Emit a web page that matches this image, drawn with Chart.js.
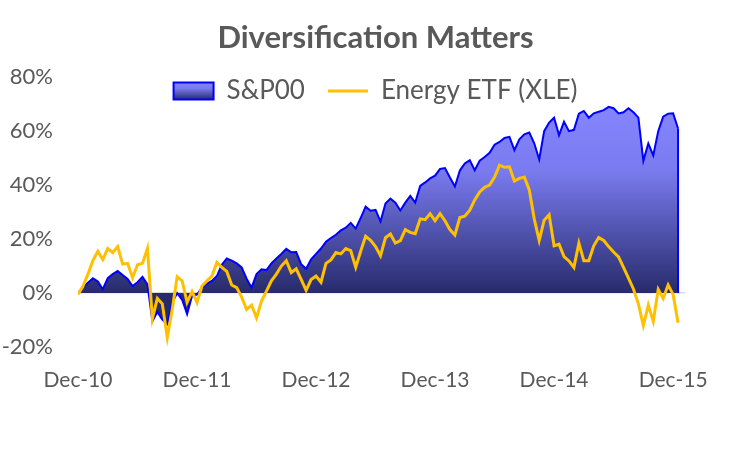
<!DOCTYPE html>
<html>
<head>
<meta charset="utf-8">
<script src="https://cdn.jsdelivr.net/npm/chart.js@4"></script>
<style>
  html, body { margin: 0; padding: 0; background: #fff; }
  #wrap { width: 751px; height: 450px; }
</style>
</head>
<body>
<div id="wrap"><canvas id="myChart" width="751" height="450"></canvas></div>
<script>
// tick positions (months since Dec-10) and their labels
const tickMonths = [0, 12, 24, 36, 48, 60];
const tickLabels = ['Dec-10', 'Dec-11', 'Dec-12', 'Dec-13', 'Dec-14', 'Dec-15'];

// cumulative return in %, one value every half month from Dec-10
const spx = [
  0, 2.0, 3.8, 5.5, 4.3, 1.4, 5.5, 7.0, 8.2, 6.7, 5.2, 2.6,
  4.0, 6.0, 3.2, -10.4, -7.0, -9.8, -11.5, -3.5, 0, -2.5, -7.8, -1.0,
  -0.6, 2.0, 3.5, 4.5, 6.3, 10.5, 12.8, 12.0, 11.0, 9.5, 5.3, 2.0,
  7.0, 8.8, 8.5, 11.0, 12.8, 14.5, 16.4, 15.1, 15.2, 10.7, 9.0, 12.5,
  14.5, 16.5, 19.0, 20.4, 21.6, 23.2, 24.2, 26.0, 23.9, 27.8, 32.0, 30.5,
  30.8, 26.5, 33.2, 35.0, 33.5, 30.6, 33.5, 36.0, 33.5, 39.7, 41.0, 42.5,
  43.5, 46.0, 46.3, 42.8, 39.5, 45.4, 48.0, 49.2, 45.5, 49.1, 50.4, 52.0,
  55.0, 56.0, 57.5, 57.9, 53.0, 57.0, 58.8, 59.5, 55.5, 49.5, 60.0, 63.2,
  65.0, 58.5, 63.5, 60.0, 60.5, 66.5, 67.5, 65.0, 66.6, 67.2, 67.8, 69.0,
  68.5, 66.6, 67.0, 68.5, 67.0, 65.0, 49.0, 55.4, 51.0, 60.0, 65.4, 66.5,
  66.6, 61.0
];

const xle = [
  -0.5, 2.5, 7.0, 12.0, 15.5, 12.4, 16.5, 15.0, 17.2, 10.7, 11.0, 5.7,
  10.5, 11.0, 16.5, -9.5, -2.0, -4.0, -16.5, -6.0, 6.0, 4.5, -3.5, 0.5,
  -3.5, 2.6, 4.5, 6.3, 11.3, 9.5, 8.0, 3.0, 2.0, -1.5, -6.1, -4.5,
  -9.2, -3.0, 0.7, 4.5, 7.0, 10.0, 12.0, 7.6, 9.0, 5.1, 1.0, 5.0,
  6.3, 4.0, 11.0, 12.3, 15.0, 14.5, 16.5, 15.7, 9.5, 15.5, 21.0, 19.5,
  17.2, 13.8, 20.5, 21.9, 18.5, 19.4, 23.5, 22.5, 22.0, 27.5, 27.2, 29.4,
  26.8, 29.4, 26.8, 23.5, 21.5, 28.0, 28.5, 30.7, 34.5, 37.5, 39.2, 40.0,
  43.0, 47.4, 46.6, 46.8, 41.5, 42.5, 43.0, 38.2, 27.5, 19.5, 27.0, 29.0,
  17.5, 18.1, 13.5, 11.9, 9.5, 18.5, 12.0, 12.0, 17.5, 20.6, 19.5, 17.2,
  15.2, 13.4, 9.5, 5.5, 1.5, -4.0, -12.0, -4.5, -10.5, 1.4, -2.0, 3.0,
  -0.5, -11.0
];

const halfMonths = spx.map((_, i) => i / 2);

const textColor = '#595959';
const fontName = 'Lato';

function areaGradient(ctx, top, bottom) {
  const g = ctx.createLinearGradient(0, top, 0, bottom);
  g.addColorStop(0, '#8585ff');
  g.addColorStop(0.35, '#7a7bef');
  g.addColorStop(1, '#272b6b');
  return g;
}

// legend sits inside the plot, just under the 80% line
const legendTweak = {
  id: 'legendTweak',
  afterLayout(chart) {
    const lg = chart.legend;
    lg.top = 55;
    lg.bottom = 55 + 59;
  },
  beforeDraw(chart) {
    const lg = chart.legend;
    const item = lg.legendItems.find(it => it.datasetIndex === 0);
    if (!item) return;
    const cy = lg.top + 23 + 13;
    item.fillStyle = areaGradient(chart.ctx, cy - 8.5, cy + 8.5);
  },
  // close the area on the right like the excel border does
  afterDatasetDraw(chart, args) {
    if (args.index !== 0) return;
    const pts = args.meta.data;
    const last = pts[pts.length - 1];
    const c = chart.ctx;
    c.save();
    c.strokeStyle = '#0000ff';
    c.lineWidth = 2;
    c.beginPath();
    c.moveTo(last.x, last.y);
    c.lineTo(last.x, chart.scales.y.getPixelForValue(0));
    c.stroke();
    c.restore();
  }
};

const ctx = document.getElementById('myChart').getContext('2d');
new Chart(ctx, {
  type: 'line',
  data: {
    datasets: [
      {
        label: 'S&P00',
        data: halfMonths.map((m, i) => ({ x: m, y: spx[i] })),
        borderColor: '#0000ff',
        borderWidth: 2,
        backgroundColor: (c) => {
          const { chart } = c;
          if (!chart.chartArea) return '#5a5ec8';
          const y = chart.scales.y;
          return areaGradient(chart.ctx, y.getPixelForValue(70), y.getPixelForValue(0));
        },
        fill: 'origin',
        pointRadius: 0,
        pointStyle: 'rect',
        order: 2
      },
      {
        label: 'Energy ETF (XLE)',
        data: halfMonths.map((m, i) => ({ x: m, y: xle[i] })),
        borderColor: '#ffc000',
        backgroundColor: '#ffc000',
        borderWidth: 3,
        fill: false,
        pointRadius: 0,
        pointStyle: 'line',
        order: 1
      }
    ]
  },
  options: {
    responsive: false,
    animation: false,
    layout: { padding: { left: 3, right: 3, top: 0, bottom: 56 } },
    plugins: {
      title: {
        display: true,
        text: 'Diversification Matters',
        color: textColor,
        font: { family: fontName, size: 31, weight: 'bold' },
        padding: { top: 19, bottom: 0 }
      },
      legend: {
        display: true,
        position: 'top',
        maxHeight: 21,
        labels: {
          usePointStyle: true,
          pointStyleWidth: 40,
          boxHeight: 17,
          padding: 23,
          color: textColor,
          font: { family: fontName, size: 26 },
          sort: (a, b) => a.datasetIndex - b.datasetIndex
        }
      },
      tooltip: { enabled: false }
    },
    scales: {
      x: {
        type: 'linear',
        min: 0,
        max: 61.2,
        grid: { display: false, drawTicks: false },
        border: { display: false },
        afterBuildTicks: (scale) => {
          scale.ticks = tickMonths.map(v => ({ value: v }));
        },
        afterFit: (scale) => { scale.height = 47; },
        ticks: {
          autoSkip: false,
          maxRotation: 0,
          padding: 21,
          color: textColor,
          font: { family: fontName, size: 21 },
          callback: (v) => tickLabels[tickMonths.indexOf(v)]
        }
      },
      y: {
        min: -20,
        max: 80,
        grid: {
          drawTicks: false,
          color: (c) => (c.tick && c.tick.value === 0 ? '#d9d9d9' : 'rgba(0,0,0,0)'),
          lineWidth: 1.5
        },
        border: { display: false },
        afterFit: (scale) => { scale.width = 75; },
        ticks: {
          stepSize: 20,
          padding: 25,
          color: textColor,
          font: { family: fontName, size: 22 },
          callback: (v) => v + '%'
        }
      },
      y2: {
        position: 'right',
        display: true,
        min: 0,
        max: 1,
        grid: { display: false },
        border: { display: false },
        ticks: { display: false },
        afterFit: (scale) => { scale.width = 63; }
      }
    }
  },
  plugins: [legendTweak]
});
</script>
</body>
</html>
